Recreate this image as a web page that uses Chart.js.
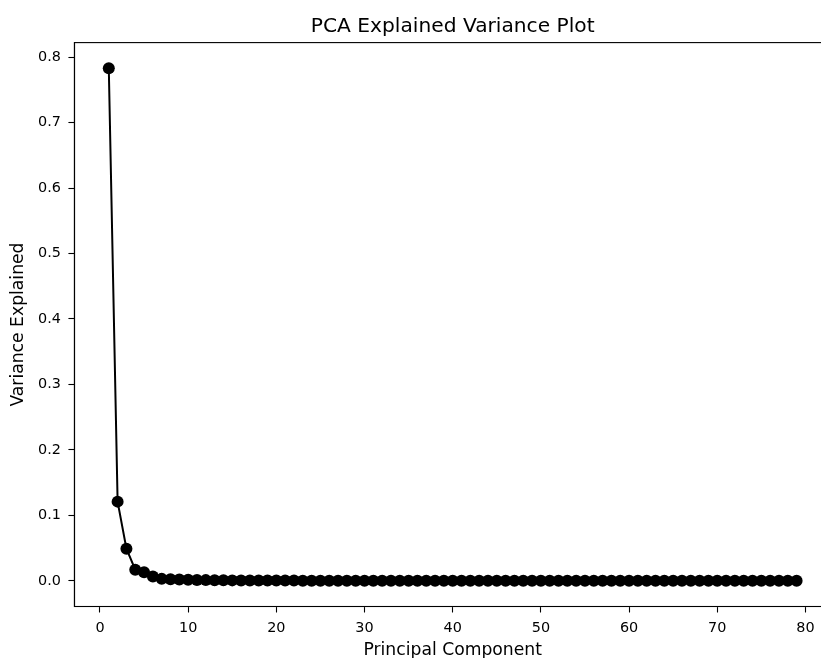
<!DOCTYPE html>
<html>
<head>
<meta charset="utf-8">
<script src="https://cdn.jsdelivr.net/npm/chart.js@4.4.1/dist/chart.umd.min.js"></script>
<style>
  html, body { margin: 0; padding: 0; background: #fff; overflow: hidden; }
  #wrap { width: 850px; height: 670px; }
</style>
</head>
<body>
<div id="wrap"><canvas id="c" width="850" height="670"></canvas></div>
<script>
// Principal component index (categories)
const components = [];
for (let i = 1; i <= 79; i++) components.push(i);

// Explained variance ratio per component
const varianceExplained = [
  0.783, 0.121, 0.049, 0.017, 0.013, 0.0068, 0.0030, 0.0024, 0.0019, 0.0015,
  0.0013, 0.0011, 0.0009, 0.0008, 0.0007, 0.0006, 0.0006, 0.0005, 0.0005, 0.0004,
  0.0004, 0.0004, 0.0003, 0.0003, 0.0003, 0.0003, 0.0002, 0.0002, 0.0002, 0.0002,
  0.0002, 0.0002, 0.0001, 0.0001, 0.0001, 0.0001, 0.0001, 0.0001, 0.0001, 0.0001,
  0.0001, 0.0001, 0.0001, 0.0001, 0.0001, 0.0001, 0.00005, 0.00005, 0.00005, 0.00005,
  0.00005, 0.00005, 0.00005, 0.00005, 0.00005, 0.00005, 0.00004, 0.00004, 0.00004, 0.00004,
  0.00003, 0.00003, 0.00003, 0.00003, 0.00003, 0.00002, 0.00002, 0.00002, 0.00002, 0.00002,
  0.00001, 0.00001, 0.00001, 0.00001, 0.00001, 0.00001, 0.000005, 0.000005, 0.000002
];

const xTicks = [0, 10, 20, 30, 40, 50, 60, 70, 80];
const yTicks = [0.0, 0.1, 0.2, 0.3, 0.4, 0.5, 0.6, 0.7, 0.8];

const titleText = 'PCA Explained Variance Plot';
const xLabel = 'Principal Component';
const yLabel = 'Variance Explained';

const FONT = "'DejaVu Sans', sans-serif";

const points = components.map((c, i) => ({ x: c, y: varianceExplained[i] }));

const frame = {
  id: 'frame',
  afterDatasetsDraw(chart) {
    const a = chart.chartArea;
    const ctx = chart.ctx;
    ctx.save();
    ctx.strokeStyle = '#000';
    ctx.lineWidth = 1.1;
    ctx.strokeRect(a.left, a.top, a.right - a.left, a.bottom - a.top);
    ctx.restore();
  }
};

new Chart(document.getElementById('c'), {
  type: 'line',
  data: {
    datasets: [{
      data: points,
      xAxisID: 'x',
      yAxisID: 'y',
      borderColor: '#000',
      backgroundColor: '#000',
      borderWidth: 2,
      pointRadius: 6,
      pointHoverRadius: 6,
      pointBackgroundColor: '#000',
      pointBorderColor: '#000',
      pointBorderWidth: 0,
      tension: 0,
      fill: false
    }]
  },
  options: {
    responsive: false,
    animation: false,
    events: [],
    layout: { padding: { left: 0, right: 19, top: 0, bottom: 0 } },
    plugins: {
      legend: { display: false },
      tooltip: { enabled: false },
      title: { display: false }
    },
    scales: {
      x: {
        type: 'linear',
        position: 'bottom',
        min: -2.9,
        max: 82.9,
        afterBuildTicks(scale) { scale.ticks = xTicks.map(v => ({ value: v })); },
        afterFit(scale) { scale.height = 63.5; },
        ticks: {
          color: '#000',
          font: { family: FONT, size: 14.4 },
          padding: 7,
          maxRotation: 0,
          callback: v => String(v)
        },
        grid: { drawOnChartArea: false, drawTicks: true, tickLength: 6, tickColor: '#000', tickWidth: 1.1 },
        border: { display: true, color: '#000', width: 1.1 },
        title: {
          display: true,
          text: xLabel,
          color: '#000',
          font: { family: FONT, size: 17.2, lineHeight: 1.2 },
          padding: { top: 0, bottom: 9 }
        }
      },
      titleAxis: {
        type: 'linear',
        axis: 'x',
        position: 'top',
        min: -2.9,
        max: 82.9,
        afterFit(scale) { scale.height = 42.6; },
        ticks: { display: false },
        grid: { display: false, drawTicks: false },
        border: { display: false },
        title: {
          display: true,
          text: titleText,
          color: '#000',
          font: { family: FONT, size: 20.2, lineHeight: 1.2 },
          padding: { top: 14.3, bottom: 0 }
        }
      },
      y: {
        type: 'linear',
        position: 'left',
        min: -0.0392,
        max: 0.8222,
        afterBuildTicks(scale) { scale.ticks = yTicks.map(v => ({ value: v })); },
        afterFit(scale) { scale.width = 74.4; },
        ticks: {
          color: '#000',
          font: { family: FONT, size: 14.4 },
          padding: 7.5,
          callback: v => Number(v).toFixed(1)
        },
        grid: { drawOnChartArea: false, drawTicks: true, tickLength: 6, tickColor: '#000', tickWidth: 1.1 },
        border: { display: true, color: '#000', width: 1.1 },
        title: {
          display: true,
          text: yLabel,
          color: '#000',
          font: { family: FONT, size: 17.2, lineHeight: 1.2 },
          padding: { top: 8.2, bottom: 0 }
        }
      }
    }
  },
  plugins: [frame]
});
</script>
</body>
</html>
